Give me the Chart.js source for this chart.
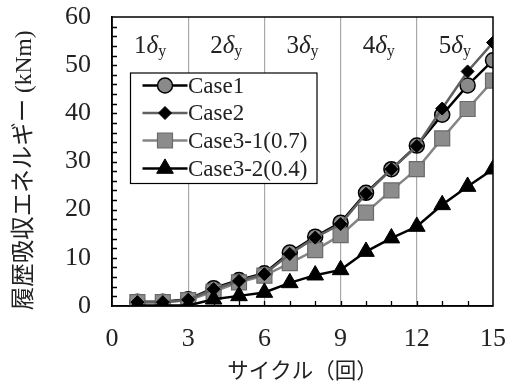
<!DOCTYPE html>
<html>
<head>
<meta charset="utf-8">
<script src="https://cdn.jsdelivr.net/npm/chart.js@4/dist/chart.umd.min.js"></script>
<style>
html,body{margin:0;padding:0;background:#fff;}
#wrap{width:513px;height:383px;}
</style>
</head>
<body>
<div id="wrap"><canvas id="c" width="513" height="383"></canvas></div>
<script>
// ---- data ----
const cycles = [1,2,3,4,5,6,7,8,9,10,11,12,13,14,15];
const case1  = [0.9,0.9,1.4,3.7,5.4,6.8,11.1,14.4,17.3,23.5,28.4,33.3,39.7,45.8,51.0];
const case2  = [0.8,0.8,1.3,3.5,5.2,6.6,10.8,14.2,17.0,23.3,28.4,33.2,41.0,48.7,54.7];
const case31 = [0.8,0.8,1.2,3.0,4.9,6.3,8.9,11.6,14.7,19.4,24.0,28.4,34.8,40.9,46.8];
const case32 = [0.1,0.1,0.1,1.4,2.1,2.8,4.8,6.4,7.5,11.3,14.1,16.5,21.0,24.8,28.4];
const seriesNames = ['Case1','Case2','Case3-1(0.7)','Case3-2(0.4)'];
const deltaMultipliers = ['1','2','3','4','5'];
const deltaCenters = [1.5,4.5,7.5,10.5,13.5];
const xTickValues = [0,3,6,9,12,15];
const yTickValues = [0,10,20,30,40,50,60];
const xTitle = 'サイクル（回）';
const yTitle = '履歴吸収エネルギー (kNm)   ';

const SERIF = "'Liberation Serif','Times New Roman',serif";
const MIX = "'Liberation Serif','Noto Sans CJK JP',serif";

function pts(arr){ return arr.map((v,i)=>({x:cycles[i], y:v})); }

const styles = [
  {color:'#000000', pointStyle:'circle', radius:7.5, bg:'#8a8a8a', border:'#000000', bw:1.5, order:4},
  {color:'#606060', pointStyle:'rectRot', radius:6.5, bg:'#000000', border:'#000000', bw:1, order:2},
  {color:'#858585', pointStyle:'rect', radius:10.6, bg:'#8c8c8c', border:'#6a6a6a', bw:1.2, order:3},
  {color:'#000000', pointStyle:'triangle', radius:9.6, bg:'#000000', border:'#000000', bw:1, order:1}
];
const allData = [case1, case2, case31, case32];

const datasets = allData.map((arr,i)=>({
  label: seriesNames[i],
  data: pts(arr),
  borderColor: styles[i].color,
  borderWidth: 2.5,
  pointStyle: styles[i].pointStyle,
  pointRadius: styles[i].radius,
  pointHoverRadius: styles[i].radius,
  pointBackgroundColor: styles[i].bg,
  pointBorderColor: styles[i].border,
  pointBorderWidth: styles[i].bw,
  order: styles[i].order,
  tension: 0,
  fill: false
}));

const decorPlugin = {
  id: 'decor',
  afterDraw(chart){
    const ctx = chart.ctx;
    const a = chart.chartArea;
    const xs = chart.scales.x, ys = chart.scales.y;
    ctx.save();
    // minor inward ticks
    ctx.strokeStyle = '#000';
    ctx.lineWidth = 1.3;
    ctx.beginPath();
    for (let v = 1; v < 15; v++){
      const px = Math.round(xs.getPixelForValue(v)) + 0.5;
      ctx.moveTo(px, a.bottom); ctx.lineTo(px, a.bottom - 5);
    }
    for (let v = 2; v < 60; v += 2){
      const py = Math.round(ys.getPixelForValue(v)) + 0.5;
      ctx.moveTo(a.left, py); ctx.lineTo(a.left + 5, py);
    }
    ctx.stroke();
    // frame
    ctx.lineWidth = 1.5;
    ctx.strokeRect(a.left, a.top, a.right - a.left, a.bottom - a.top);

    // delta labels
    deltaMultipliers.forEach((m, i) => {
      const cx = xs.getPixelForValue(deltaCenters[i]);
      const base = a.top + 36;
      ctx.textBaseline = 'alphabetic';
      ctx.textAlign = 'left';
      ctx.font = "25px " + SERIF;
      const w1 = ctx.measureText(m).width;
      ctx.font = "italic 25px " + SERIF;
      const w2 = ctx.measureText('δ').width;
      ctx.font = "16px " + SERIF;
      const w3 = ctx.measureText('y').width;
      let x0 = cx - (w1 + w2 + w3) / 2;
      ctx.fillStyle = '#222';
      ctx.font = "25px " + SERIF;
      ctx.fillText(m, x0, base);
      ctx.font = "italic 25px " + SERIF;
      ctx.fillText('δ', x0 + w1, base);
      ctx.font = "16px " + SERIF;
      ctx.fillText('y', x0 + w1 + w2, base + 2.5);
    });

    // legend
    const lx = a.left + 18.5, ly = a.top + 56, lw = 186.5, lh = 110.5;
    ctx.fillStyle = '#fff';
    ctx.fillRect(lx, ly, lw, lh);
    ctx.strokeStyle = '#000';
    ctx.lineWidth = 1.2;
    ctx.strokeRect(lx, ly, lw, lh);
    const rows = [12.5, 40, 67.5, 95.5];
    datasets.forEach((d, i) => {
      const ry = ly + rows[i];
      ctx.strokeStyle = d.borderColor;
      ctx.lineWidth = 2.5;
      ctx.beginPath();
      ctx.moveTo(lx + 12, ry); ctx.lineTo(lx + 57, ry);
      ctx.stroke();
      ctx.fillStyle = d.pointBackgroundColor;
      ctx.strokeStyle = d.pointBorderColor;
      ctx.lineWidth = d.pointBorderWidth;
      Chart.helpers.drawPoint(ctx, {pointStyle: d.pointStyle, radius: d.pointRadius, rotation: 0, borderWidth: d.pointBorderWidth}, lx + 34.5, ry);
      ctx.fillStyle = '#222';
      ctx.font = "23px " + SERIF;
      ctx.textAlign = 'left';
      ctx.textBaseline = 'middle';
      ctx.fillText(d.label, lx + 57.5, ry + 1);
    });
    ctx.restore();
  }
};

new Chart(document.getElementById('c'), {
  type: 'line',
  data: { datasets },
  options: {
    responsive: false,
    devicePixelRatio: 1,
    animation: false,
    events: [],
    layout: { padding: { top: 17, right: 20, bottom: 0, left: 0 } },
    plugins: { legend: { display: false }, tooltip: { enabled: false } },
    scales: {
      x: {
        type: 'linear', min: 0, max: 15,
        afterBuildTicks(s){ s.ticks = xTickValues.map(v=>({value:v})); },
        afterFit(s){ s.height = 77; s.paddingLeft = 0; s.paddingRight = 0; s.paddingTop = 0; s.paddingBottom = 0; },
        ticks: { font: { family: SERIF, size: 26 }, color: '#222', padding: 18, maxRotation: 0, autoSkip: false },
        grid: {
          drawTicks: false,
          color: (c) => (c.tick && c.tick.value > 0 && c.tick.value < 15) ? '#a8a8a8' : 'rgba(0,0,0,0)',
          lineWidth: 1.2
        },
        border: { display: true, color: '#000', width: 1.5 },
        title: { display: true, text: xTitle, font: { family: MIX, size: 21.5, lineHeight: 1 }, color: '#222', padding: { top: 0, bottom: 0 } }
      },
      y: {
        min: 0, max: 60,
        afterBuildTicks(s){ s.ticks = yTickValues.map(v=>({value:v})); },
        afterFit(s){ s.width = 112; s.paddingLeft = 0; s.paddingRight = 0; s.paddingTop = 0; s.paddingBottom = 0; },
        ticks: { font: { family: SERIF, size: 26 }, color: '#222', padding: 21, autoSkip: false },
        grid: { display: false, drawTicks: false },
        border: { display: true, color: '#000', width: 1.5 },
        title: { display: true, text: yTitle, font: { family: MIX, size: 23.5, lineHeight: 1 }, color: '#222', padding: { top: 13.5, bottom: 0 } }
      }
    }
  },
  plugins: [decorPlugin]
});
</script>
</body>
</html>
